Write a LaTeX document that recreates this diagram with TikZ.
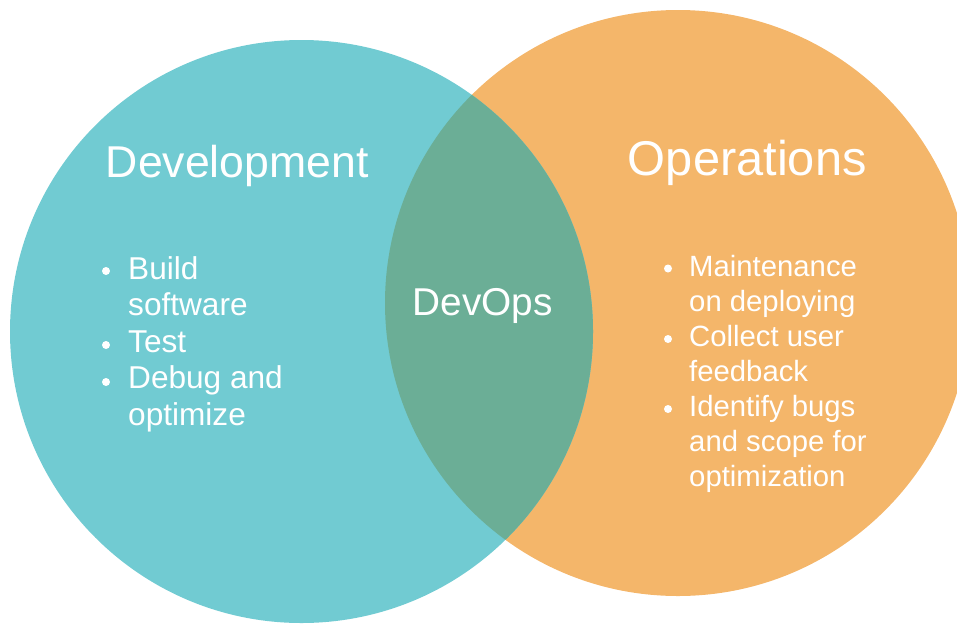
\documentclass[tikz,border=0pt]{standalone}
\usepackage{fontspec}
\setmainfont{Liberation Sans}
\definecolor{teal}{HTML}{71CBD2}
\definecolor{orng}{HTML}{F4B66A}
\definecolor{ovl}{HTML}{6BAE96}
\begin{document}
\begin{tikzpicture}[x=1pt,y=-1pt,
  txt/.style={text=white,inner sep=0pt,anchor=base west},
  title/.style={txt,font=\fontsize{#1}{#1}\selectfont},
  litem/.style={txt,font=\fontsize{31.6}{36}\selectfont},
  ritem/.style={txt,font=\fontsize{29.3}{35}\selectfont},
  dot/.style={fill=white,circle,inner sep=0pt,minimum size=8pt}]
\useasboundingbox (0,0) rectangle (957,624);
\fill[orng] (678,303) circle[radius=293];
\fill[teal] (301.5,331.5) circle[radius=291.5];
\begin{scope}
  \clip (678,303) circle[radius=293];
  \fill[ovl] (301.5,331.5) circle[radius=291.5];
\end{scope}
\node[title=44.6] (dev) at (105.6,177) {Development};
\node[title=48.8] (ops) at (627.7,175) {Operations};
\node[title=38.8,anchor=base] (devops) at (482.5,315) {DevOps};
% left list
\node[dot] (ld1) at (106,271) {};
\node[litem] (l1) at (128,279) {Build};
\node[litem] (l2) at (128,315.6) {software};
\node[dot] (ld2) at (106,345) {};
\node[litem] (l3) at (128,352.2) {Test};
\node[dot] (ld3) at (106,382) {};
\node[litem] (l4) at (128,388.8) {Debug and};
\node[litem] (l5) at (128,425.4) {optimize};
% right list
\node[dot] (rd1) at (668,268.5) {};
\node[ritem] (r1) at (689,276) {Maintenance};
\node[ritem] (r2) at (689,311) {on deploying};
\node[dot] (rd2) at (668,339) {};
\node[ritem] (r3) at (689,346) {Collect user};
\node[ritem] (r4) at (689,381) {feedback};
\node[dot] (rd3) at (668,409) {};
\node[ritem] (r5) at (689,416) {Identify bugs};
\node[ritem] (r6) at (689,451) {and scope for};
\node[ritem] (r7) at (689,486) {optimization};
\end{tikzpicture}
\end{document}
